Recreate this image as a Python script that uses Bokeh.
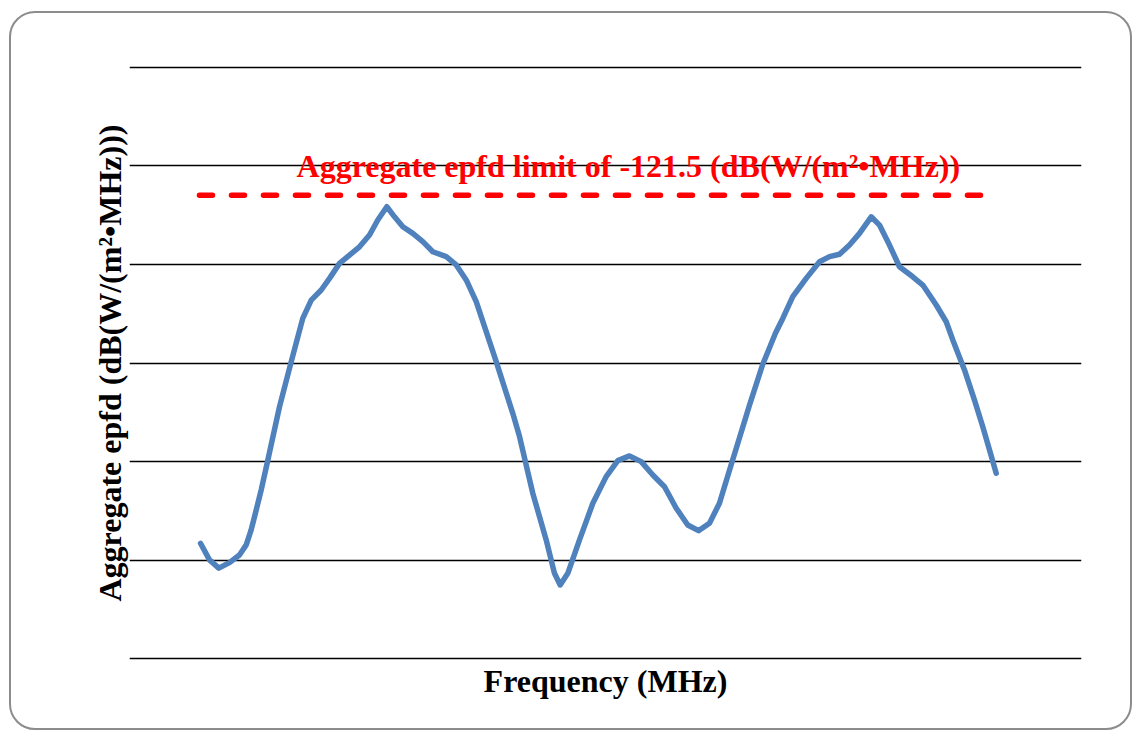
from bokeh.plotting import figure
from bokeh.models import Range1d, FixedTicker, Label
from bokeh.embed import file_html
from bokeh.resources import INLINE

# ---- data ----
freq = [7.46, 8.40, 9.38, 10.50, 11.55, 12.26, 12.78, 13.31, 13.83, 14.53,
        15.76, 16.99, 18.20, 19.09, 20.14, 21.01, 22.06, 23.11, 24.16, 25.21,
        26.08, 27.03, 27.84, 28.71, 29.76, 30.81, 31.86, 33.27, 34.32, 35.37,
        36.42, 38.52, 40.26, 40.97, 42.36, 43.77, 44.64, 45.24, 46.04, 47.27,
        48.67, 50.07, 51.29, 52.52, 53.75, 54.97, 56.20, 57.43, 58.64, 59.77,
        60.92, 61.97, 63.03, 63.90, 65.13, 66.49, 67.86, 68.62, 69.67, 71.08,
        72.48, 73.53, 74.58, 75.63, 76.68, 77.91, 78.78, 79.83, 80.88, 82.28,
        83.33, 84.74, 85.79, 86.48, 87.71, 88.76, 89.63, 90.34, 91.04]
epfd = [-139.14, -139.98, -140.40, -140.12, -139.73, -139.22, -138.46, -137.45, -136.44, -134.92,
        -132.21, -129.93, -127.74, -126.81, -126.30, -125.71, -124.95, -124.53, -124.11, -123.51,
        -122.75, -122.08, -122.59, -123.09, -123.43, -123.85, -124.36, -124.61, -125.03, -125.79,
        -126.89, -129.93, -132.55, -133.73, -136.60, -138.97, -140.66, -141.25, -140.66, -138.97,
        -137.11, -135.76, -134.95, -134.71, -135.00, -135.68, -136.27, -137.36, -138.21, -138.50,
        -138.12, -137.11, -135.42, -134.07, -132.13, -130.10, -128.48, -127.74, -126.64, -125.71,
        -124.87, -124.61, -124.49, -124.02, -123.43, -122.59, -123.01, -124.02, -125.12, -125.63,
        -126.05, -127.06, -127.91, -128.83, -130.35, -131.88, -133.23, -134.41, -135.59]
limit_freq = [7.35, 90.1]
limit_value = [-121.5, -121.5]
limit_text = "Aggregate epfd limit of -121.5 (dB(W/(m\u00b2\u2022MHz))"
grid_ticks = [-145, -140, -135, -130, -125, -120, -115]
x_title = "Frequency (MHz)"
y_title = "Aggregate epfd (dB(W/(m\u00b2\u2022MHz)))"

FONT = "Liberation Serif"

p = figure(width=1123, height=719, output_backend="svg", toolbar_location=None,
           x_range=Range1d(0, 100), y_range=Range1d(-145.08, -114.92),
           min_border_left=118, min_border_right=53, min_border_top=52, min_border_bottom=72)
p.styles = {"border": "2px solid #8c8c8c", "border-radius": "26px",
            "margin-left": "9px", "margin-top": "11px"}
p.background_fill_color = None
p.border_fill_color = None
p.outline_line_color = None

p.xgrid.visible = False
p.xaxis.ticker = FixedTicker(ticks=[])
p.yaxis.ticker = FixedTicker(ticks=[])
p.ygrid.ticker = FixedTicker(ticks=grid_ticks)
p.ygrid.grid_line_color = "black"
p.ygrid.grid_line_width = 1.6

for ax in (p.xaxis, p.yaxis):
    ax.major_label_standoff = 0
    ax.major_tick_line_color = None
    ax.minor_tick_line_color = None
    ax.major_tick_out = 0
    ax.major_tick_in = 0
    ax.axis_line_color = None
    ax.axis_label_text_font = FONT
    ax.axis_label_text_font_style = "bold"
    ax.axis_label_text_font_size = "32px"
    ax.axis_label_text_color = "black"

p.xaxis.axis_label = x_title
p.yaxis.axis_label = y_title
p.xaxis.axis_label_standoff = 2
p.yaxis.axis_label_standoff = 2

p.line(freq, epfd, line_color="#4F81BD", line_width=5.5, line_join="round", line_cap="round")
p.line(limit_freq, limit_value, line_color="#FF0000", line_width=5.5, line_dash="13 19", line_cap="round")

p.add_layout(Label(x=52.4, y=-120.0, text=limit_text, text_align="center", text_baseline="alphabetic",
                   text_color="#FF0000", text_font=FONT, text_font_style="bold",
                   text_font_size="32px"))

open("out.html", "w").write(file_html(p, INLINE))
